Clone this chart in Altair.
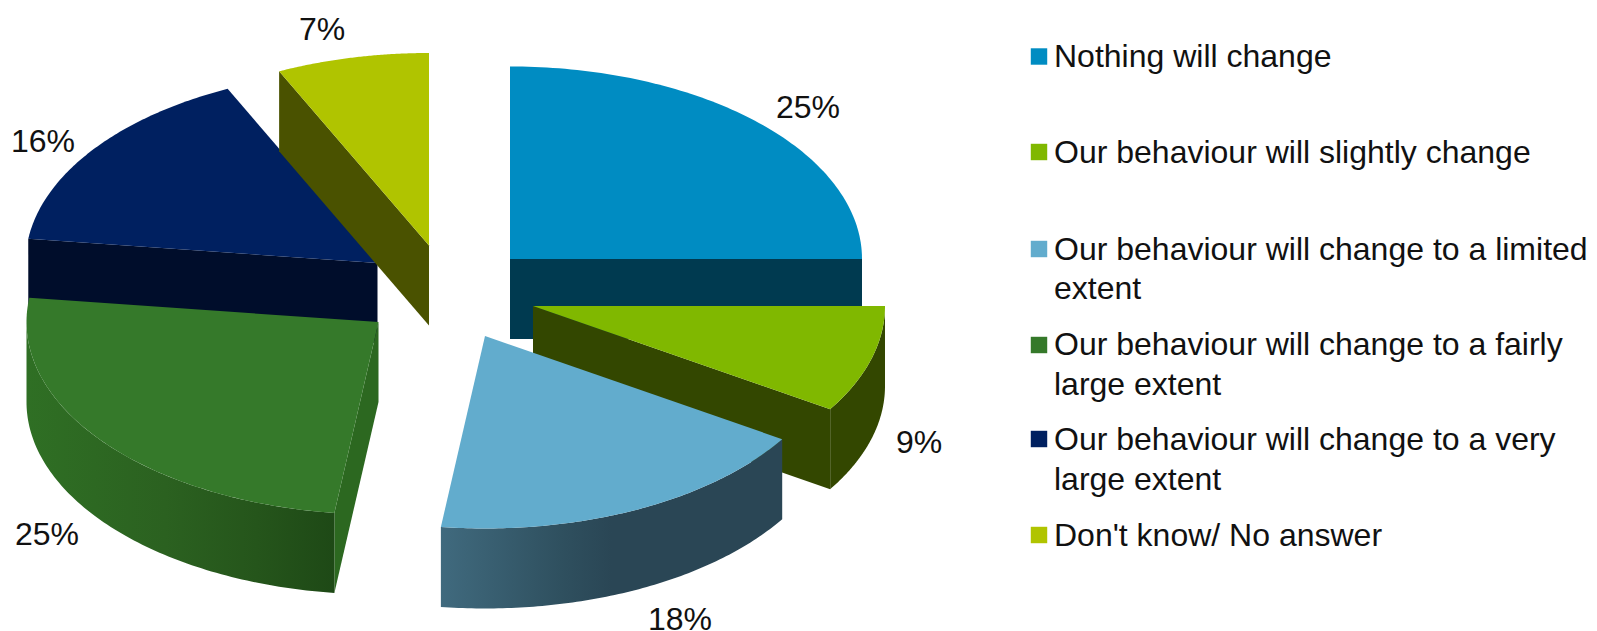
import math
import altair as alt

categories = ["Nothing will change", "Our behaviour will slightly change",
              "Our behaviour will change to a limited extent",
              "Our behaviour will change to a fairly large extent",
              "Our behaviour will change to a very large extent",
              "Don't know/ No answer"]
shares = [25, 9, 18, 25, 16, 7]
legend_lines = [["Nothing will change"], ["Our behaviour will slightly change"],
                ["Our behaviour will change to a limited", "extent"],
                ["Our behaviour will change to a fairly", "large extent"],
                ["Our behaviour will change to a very", "large extent"],
                ["Don't know/ No answer"]]
top_colors = ["#008CC2", "#80B800", "#62ACCD", "#35792A", "#002060", "#B0C400"]
wall_colors = ["#003A50", "#334700", "#2A4655", "#2C6820", "#000D2B", "#4A5200"]

# Layout of the exploded pie, in page pixels
centers = [(510, 259), (533, 306), (485, 336), (378.5, 322), (377.5, 263), (429, 245.5)]
RX, RY, DEPTH = 352, 192.5, 80
OX, OY = 8, 8
label_pos = [(808, 108), (919, 443), (680, 620), (47, 535), (43, 142), (322, 30)]
swatch_y = [56.5, 152, 249, 345, 439, 535]
legend_y = [[56.5], [153], [249.5, 289], [345, 385], [440, 480], [535.5]]

identity = alt.Projection(type="identity", scale=1, translate=[0, 0])


def shape(pts, fill):
    ring = [[x - OX, y - OY] for x, y in pts]
    ring.append(ring[0])
    feat = {"type": "Feature", "properties": {},
            "geometry": {"type": "Polygon", "coordinates": [ring]}}
    return alt.Chart(alt.Data(values=[feat])).mark_geoshape(fill=fill, strokeWidth=0).project(**identity.to_dict())


def rim(i, a0, a1, dy=0.0):
    cx, cy = centers[i]
    n = 90
    out = []
    for k in range(n + 1):
        a = math.radians(a0 + (a1 - a0) * k / n)
        out.append((cx + RX * math.sin(a), cy - RY * math.cos(a) + dy))
    return out


starts = [sum(shares[:i]) * 3.6 for i in range(len(shares))]
ends = [sum(shares[:i + 1]) * 3.6 for i in range(len(shares))]


def top(i):
    return shape([centers[i]] + rim(i, starts[i], ends[i]), top_colors[i])


def face(i, angle, fill=None):
    cx, cy = centers[i]
    p = rim(i, angle, angle)[0]
    return shape([(cx, cy), p, (p[0], p[1] + DEPTH), (cx, cy + DEPTH)], fill or wall_colors[i])


def wall(i, a0, a1, fill=None):
    up = rim(i, a0, a1)
    down = rim(i, a0, a1, DEPTH)
    return shape(up + down[::-1], fill or wall_colors[i])


def grad(stops):
    return alt.Gradient(gradient="linear", x1=0, x2=1, y1=0, y2=0,
                        stops=[alt.GradientStop(offset=o, color=c) for o, c in stops])


layers = [
    # navy (16%)
    face(4, starts[4]), top(4),
    # lime (7%)
    face(5, starts[5]), top(5),
    # blue (25%)
    face(0, ends[0]), top(0),
    # green (9%)
    face(1, ends[1]), wall(1, starts[1], ends[1]), top(1),
    # light blue (18%)
    wall(2, ends[2], starts[2], grad([(0, "#406A7E"), (0.35, "#2F505F"), (0.5, "#2A4655"), (1, "#2A4655")])), top(2),
    # dark green (25%): the outer wall stops at the pie's leftmost point
    face(3, starts[3]),
    wall(3, 270, starts[3], grad([(0, "#2F6F24"), (0.45, "#2B6120"), (0.75, "#25551B"), (1, "#1E4916")])), top(3),
]

label_rows = [{"x": x - OX, "y": y - OY, "t": f"{s}%"} for (x, y), s in zip(label_pos, shares)]
labels = alt.Chart(alt.Data(values=label_rows)).mark_text(
    font="Liberation Sans", fontSize=32, color="#111111", align="center", baseline="middle"
).encode(x=alt.X("x:Q", scale=None), y=alt.Y("y:Q", scale=None), text="t:N")

swatch_rows = [{"x": 1039 - OX, "y": y - OY, "c": c} for y, c in zip(swatch_y, top_colors)]
swatches = alt.Chart(alt.Data(values=swatch_rows)).mark_square(size=270, opacity=1, filled=True).encode(
    x=alt.X("x:Q", scale=None), y=alt.Y("y:Q", scale=None), color=alt.Color("c:N", scale=None))

legend_rows = []
for lines, ys in zip(legend_lines, legend_y):
    for t, y in zip(lines, ys):
        legend_rows.append({"x": 1054 - OX, "y": y - OY, "t": t})
legend = alt.Chart(alt.Data(values=legend_rows)).mark_text(
    font="Liberation Sans", fontSize=32, color="#111111", align="left", baseline="middle"
).encode(x=alt.X("x:Q", scale=None), y=alt.Y("y:Q", scale=None), text="t:N")

chart = alt.layer(*layers, labels, swatches, legend).properties(
    width=1581, height=623, padding=0, autosize=alt.AutoSizeParams(type="none"),
    background="white"
).configure_view(stroke=None)

chart.save("out.html", embed_options={"renderer": "svg", "actions": False})
